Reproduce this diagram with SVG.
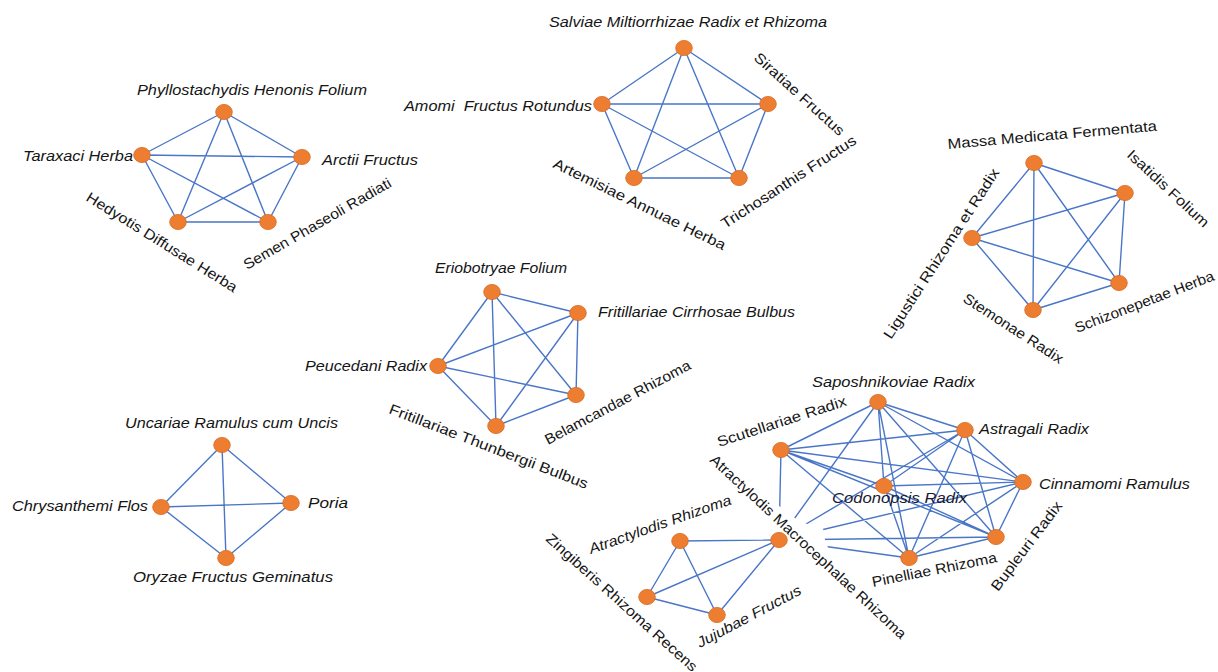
<svg xmlns="http://www.w3.org/2000/svg" width="1218" height="672" viewBox="0 0 1218 672">
<style>
.e{stroke:#4a76c8;stroke-width:1.4;fill:none}
.n{fill:#ed7d31;stroke:#d8691f;stroke-width:0.8}
.t{font-family:"Liberation Sans",Arial,sans-serif;font-size:14.5px;fill:#151515;font-style:italic}
.r{font-style:normal}
</style>
<rect width="1218" height="672" fill="#ffffff"/>
<g id="connectors">
<path class="e" d="M224,112L142,155M224,112L302,157M224,112L178,222M224,112L268,222M142,155L302,157M142,155L178,222M142,155L268,222M302,157L178,222M302,157L268,222M178,222L268,222"/>
<path class="e" d="M684,48L602,104M684,48L768,104M684,48L634,178M684,48L739,178M602,104L768,104M602,104L634,178M602,104L739,178M768,104L634,178M768,104L739,178M634,178L739,178"/>
<path class="e" d="M1034,163L1125,193M1034,163L972,238M1034,163L1119,283M1034,163L1033,310M1125,193L972,238M1125,193L1119,283M1125,193L1033,310M972,238L1119,283M972,238L1033,310M1119,283L1033,310"/>
<path class="e" d="M492,292L578,313M492,292L438,366M492,292L576,395M492,292L496,426M578,313L438,366M578,313L576,395M578,313L496,426M438,366L576,395M438,366L496,426M576,395L496,426"/>
<path class="e" d="M222,445L161,507M222,445L291,503M222,445L226,558M161,507L291,503M161,507L226,558M291,503L226,558"/>
<path class="e" d="M878,402L965,430M878,402L781,450M878,402L884,486M878,402L1023,482M878,402L996,537M878,402L909,558M878,402L779,540M965,430L781,450M965,430L884,486M965,430L1023,482M965,430L996,537M965,430L909,558M965,430L779,540M781,450L884,486M781,450L1023,482M781,450L996,537M781,450L909,558M781,450L779,540M884,486L1023,482M884,486L996,537M884,486L909,558M1023,482L996,537M1023,482L909,558M1023,482L779,540M996,537L909,558M996,537L779,540M909,558L779,540"/>
<path class="e" d="M680,541L779,540M680,541L647,597M680,541L717,615M779,540L647,597M779,540L717,615M647,597L717,615"/>
</g>
<g id="n-phyllostachydis"><ellipse class="n" cx="224" cy="112" rx="8.3" ry="7.6"/><text class="t" x="137" y="95" textLength="230" lengthAdjust="spacingAndGlyphs">Phyllostachydis Henonis Folium</text></g>
<g id="n-taraxaci"><ellipse class="n" cx="142" cy="155" rx="8.3" ry="7.6"/><text class="t" x="23" y="161" textLength="110" lengthAdjust="spacingAndGlyphs">Taraxaci Herba</text></g>
<g id="n-arctii"><ellipse class="n" cx="302" cy="157" rx="8.3" ry="7.6"/><text class="t" x="322" y="165" textLength="96" lengthAdjust="spacingAndGlyphs">Arctii Fructus</text></g>
<g id="n-hedyotis"><ellipse class="n" cx="178" cy="222" rx="8.3" ry="7.6"/><text class="t r" transform="translate(85,200) rotate(32)" textLength="175" lengthAdjust="spacingAndGlyphs">Hedyotis Diffusae Herba</text></g>
<g id="n-semen"><ellipse class="n" cx="268" cy="222" rx="8.3" ry="7.6"/><text class="t r" transform="translate(247,270) rotate(-30)" textLength="168" lengthAdjust="spacingAndGlyphs">Semen Phaseoli Radiati</text></g>
<g id="n-salviae"><ellipse class="n" cx="684" cy="48" rx="8.3" ry="7.6"/><text class="t" x="549" y="27" textLength="278" lengthAdjust="spacingAndGlyphs">Salviae Miltiorrhizae Radix et Rhizoma</text></g>
<g id="n-amomi"><ellipse class="n" cx="602" cy="104" rx="8.3" ry="7.6"/><text class="t" x="404" y="111" textLength="188" lengthAdjust="spacingAndGlyphs" xml:space="preserve">Amomi  Fructus Rotundus</text></g>
<g id="n-siratiae"><ellipse class="n" cx="768" cy="104" rx="8.3" ry="7.6"/><text class="t r" transform="translate(753,59) rotate(42)" textLength="116" lengthAdjust="spacingAndGlyphs">Siratiae Fructus</text></g>
<g id="n-artemisiae"><ellipse class="n" cx="634" cy="178" rx="8.3" ry="7.6"/><text class="t r" transform="translate(552,167) rotate(26)" textLength="190" lengthAdjust="spacingAndGlyphs">Artemisiae Annuae Herba</text></g>
<g id="n-trichosanthis"><ellipse class="n" cx="739" cy="178" rx="8.3" ry="7.6"/><text class="t r" transform="translate(725,229) rotate(-33)" textLength="158" lengthAdjust="spacingAndGlyphs">Trichosanthis Fructus</text></g>
<g id="n-massa"><ellipse class="n" cx="1034" cy="163" rx="8.3" ry="7.6"/><text class="t r" transform="translate(948,149) rotate(-5)" textLength="210" lengthAdjust="spacingAndGlyphs">Massa Medicata Fermentata</text></g>
<g id="n-isatidis"><ellipse class="n" cx="1125" cy="193" rx="8.3" ry="7.6"/><text class="t r" transform="translate(1126,156) rotate(43)" textLength="106" lengthAdjust="spacingAndGlyphs">Isatidis Folium</text></g>
<g id="n-ligustici"><ellipse class="n" cx="972" cy="238" rx="8.3" ry="7.6"/><text class="t r" transform="translate(891,340) rotate(-57)" textLength="200" lengthAdjust="spacingAndGlyphs">Ligustici Rhizoma et Radix</text></g>
<g id="n-schizonepetae"><ellipse class="n" cx="1119" cy="283" rx="8.3" ry="7.6"/><text class="t r" transform="translate(1077,333) rotate(-21)" textLength="148" lengthAdjust="spacingAndGlyphs">Schizonepetae Herba</text></g>
<g id="n-stemonae"><ellipse class="n" cx="1033" cy="310" rx="8.3" ry="7.6"/><text class="t r" transform="translate(962,301) rotate(33)" textLength="116" lengthAdjust="spacingAndGlyphs">Stemonae Radix</text></g>
<g id="n-eriobotryae"><ellipse class="n" cx="492" cy="292" rx="8.3" ry="7.6"/><text class="t" x="435" y="273" textLength="132" lengthAdjust="spacingAndGlyphs">Eriobotryae Folium</text></g>
<g id="n-fritillariae-c"><ellipse class="n" cx="578" cy="313" rx="8.3" ry="7.6"/><text class="t" x="598" y="317" textLength="197" lengthAdjust="spacingAndGlyphs">Fritillariae Cirrhosae Bulbus</text></g>
<g id="n-peucedani"><ellipse class="n" cx="438" cy="366" rx="8.3" ry="7.6"/><text class="t" x="305" y="371" textLength="122" lengthAdjust="spacingAndGlyphs">Peucedani Radix</text></g>
<g id="n-belamcandae"><ellipse class="n" cx="576" cy="395" rx="8.3" ry="7.6"/><text class="t r" transform="translate(548,445) rotate(-28)" textLength="163" lengthAdjust="spacingAndGlyphs">Belamcandae Rhizoma</text></g>
<g id="n-fritillariae-t"><ellipse class="n" cx="496" cy="426" rx="8.3" ry="7.6"/><text class="t r" transform="translate(388,413) rotate(21)" textLength="212" lengthAdjust="spacingAndGlyphs">Fritillariae Thunbergii Bulbus</text></g>
<g id="n-uncariae"><ellipse class="n" cx="222" cy="445" rx="8.3" ry="7.6"/><text class="t" x="125" y="428" textLength="213" lengthAdjust="spacingAndGlyphs">Uncariae Ramulus cum Uncis</text></g>
<g id="n-chrysanthemi"><ellipse class="n" cx="161" cy="507" rx="8.3" ry="7.6"/><text class="t" x="12" y="511" textLength="136" lengthAdjust="spacingAndGlyphs">Chrysanthemi Flos</text></g>
<g id="n-poria"><ellipse class="n" cx="291" cy="503" rx="8.3" ry="7.6"/><text class="t" x="308" y="508" textLength="40" lengthAdjust="spacingAndGlyphs">Poria</text></g>
<g id="n-oryzae"><ellipse class="n" cx="226" cy="558" rx="8.3" ry="7.6"/><text class="t" x="133" y="582" textLength="200" lengthAdjust="spacingAndGlyphs">Oryzae Fructus Geminatus</text></g>
<g id="n-atractylodis-m"><polygon points="703,447 783,509 800,522 823,528 825,540 829,550 915,632 903,650 700,468" fill="#ffffff"/><text class="t r" transform="translate(709,461) rotate(43)" textLength="262" lengthAdjust="spacingAndGlyphs">Atractylodis Macrocephalae Rhizoma</text><ellipse class="n" cx="779" cy="540" rx="8.3" ry="7.6"/></g>
<g id="n-saposhnikoviae"><ellipse class="n" cx="878" cy="402" rx="8.3" ry="7.6"/><text class="t" x="812" y="387" textLength="163" lengthAdjust="spacingAndGlyphs">Saposhnikoviae Radix</text></g>
<g id="n-astragali"><ellipse class="n" cx="965" cy="430" rx="8.3" ry="7.6"/><text class="t" x="979" y="434" textLength="110" lengthAdjust="spacingAndGlyphs">Astragali Radix</text></g>
<g id="n-scutellariae"><ellipse class="n" cx="781" cy="450" rx="8.3" ry="7.6"/><text class="t r" transform="translate(719,447) rotate(-18)" textLength="135" lengthAdjust="spacingAndGlyphs">Scutellariae Radix</text></g>
<g id="n-codonopsis"><ellipse class="n" cx="884" cy="486" rx="8.3" ry="7.6"/><text class="t" x="832" y="503" textLength="135" lengthAdjust="spacingAndGlyphs" style="fill:#1a1a33">Codonopsis Radix</text></g>
<g id="n-cinnamomi"><ellipse class="n" cx="1023" cy="482" rx="8.3" ry="7.6"/><text class="t" x="1039" y="489" textLength="151" lengthAdjust="spacingAndGlyphs">Cinnamomi Ramulus</text></g>
<g id="n-bupleuri"><ellipse class="n" cx="996" cy="537" rx="8.3" ry="7.6"/><text class="t r" transform="translate(998,592) rotate(-53)" textLength="108" lengthAdjust="spacingAndGlyphs">Bupleuri Radix</text></g>
<g id="n-pinelliae"><ellipse class="n" cx="909" cy="558" rx="8.3" ry="7.6"/><text class="t r" transform="translate(873,587) rotate(-11.3)" textLength="127" lengthAdjust="spacingAndGlyphs">Pinelliae Rhizoma</text></g>
<g id="n-atractylodis"><ellipse class="n" cx="680" cy="541" rx="8.3" ry="7.6"/><text class="t" transform="translate(591,554) rotate(-19.5)" textLength="150" lengthAdjust="spacingAndGlyphs">Atractylodis Rhizoma</text></g>
<g id="n-zingiberis"><ellipse class="n" cx="647" cy="597" rx="8.3" ry="7.6"/><text class="t r" transform="translate(545,540) rotate(42)" textLength="198" lengthAdjust="spacingAndGlyphs">Zingiberis Rhizoma Recens</text></g>
<g id="n-jujubae"><ellipse class="n" cx="717" cy="615" rx="8.3" ry="7.6"/><text class="t" transform="translate(700,648) rotate(-28)" textLength="116" lengthAdjust="spacingAndGlyphs">Jujubae Fructus</text></g>
</svg>
